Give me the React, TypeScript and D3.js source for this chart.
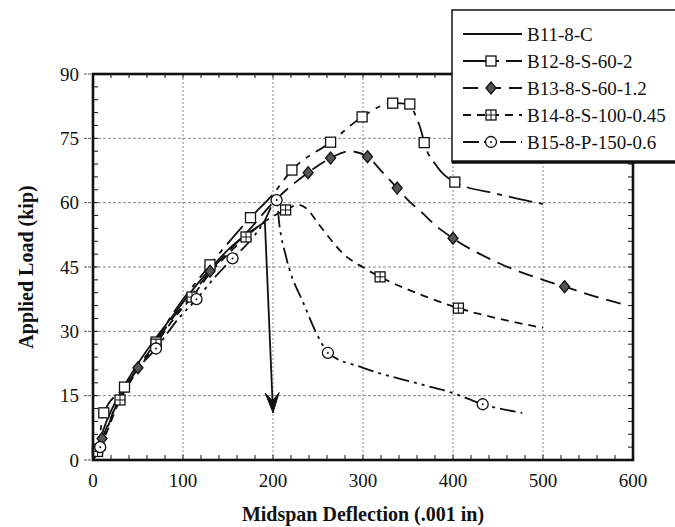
import React from "react";
import * as d3 from "d3";

type P = [number, number];

const xTicks = [0, 100, 200, 300, 400, 500, 600];
const yTicks = [0, 15, 30, 45, 60, 75, 90];
const xTitle = "Midspan Deflection (.001 in)";
const yTitle = "Applied Load (kip)";

const seriesNames = ["B11-8-C", "B12-8-S-60-2", "B13-8-S-60-1.2", "B14-8-S-100-0.45", "B15-8-P-150-0.6"];

const b11: P[] = [[0, 0], [5, 3], [15, 9], [30, 15.5], [50, 22.5], [70, 28.5], [90, 34], [110, 39.5], [130, 44.5], [150, 49], [170, 52.5], [191, 55.5]];
const b11Arrow: P[] = [[191, 55.5], [200, 11]];

const b12: P[] = [[0, 0], [5, 2.5], [12, 11], [35, 17], [60, 24.5], [90, 34.5], [130, 45.5], [175, 56.5], [200, 62], [221, 67.6], [264, 74.1], [299, 80], [333, 83.2], [352, 83], [358, 80.5], [365, 76.5], [368, 74], [382, 68.5], [402, 64.8], [450, 62], [500, 59.7]];
const b12Marks: P[] = [[5, 2.5], [12, 11], [35, 17], [70, 27.5], [130, 45.5], [175, 56.5], [221, 67.6], [264, 74.1], [299, 80], [333, 83.2], [352, 83], [368, 74], [402, 64.8]];

const b13: P[] = [[0, 0], [10, 5], [30, 14.5], [50, 21.5], [70, 27.5], [90, 33.5], [110, 38.5], [130, 44], [150, 48.5], [175, 54], [200, 60], [239, 67], [264, 70.4], [285, 72], [305, 70.7], [322, 67], [338, 63.4], [350, 60.6], [365, 57.8], [380, 54.8], [400, 51.7], [450, 46], [500, 42], [524, 40.4], [560, 38], [595, 36]];
const b13Marks: P[] = [[10, 5], [50, 21.5], [130, 44], [239, 67], [264, 70.4], [305, 70.7], [338, 63.4], [400, 51.7], [524, 40.4]];

const b14: P[] = [[0, 0], [5, 2], [10, 4], [30, 14], [50, 21], [70, 27], [90, 33], [110, 38], [130, 43.5], [150, 48], [170, 52], [190, 55.5], [214, 58.3], [228, 59.5], [238, 58.5], [250, 55.2], [263, 51.7], [276, 48.5], [301, 44.8], [319, 42.7], [371, 38], [406, 35.4], [450, 33], [500, 30.8]];
const b14Marks: P[] = [[5, 2], [30, 14], [70, 27], [110, 38], [170, 52], [214, 58.3], [319, 42.7], [406, 35.4]];

const b15: P[] = [[0, 0], [8, 3], [25, 12.5], [45, 20], [70, 26], [95, 33], [115, 37.5], [135, 42.5], [155, 47], [172, 50.5], [190, 55.5], [204, 60.6], [207, 55], [215, 47], [235, 36], [252, 28], [261, 25], [300, 21.5], [367, 17.5], [400, 15.6], [433, 13], [477, 11]];
const b15Marks: P[] = [[8, 3], [70, 26], [115, 37.5], [155, 47], [204, 60.6], [261, 25], [433, 13]];

const x = d3.scaleLinear().domain([0, 600]).range([93, 633]);
const y = d3.scaleLinear().domain([0, 90]).range([460, 74]);

const line = d3.line<P>().x((d) => x(d[0])).y((d) => y(d[1])).curve(d3.curveMonotoneX);
const straight = d3.line<P>().x((d) => x(d[0])).y((d) => y(d[1]));

const INK = "#111";

type Marker = "none" | "square" | "diamond" | "squarecross" | "circledot";

function Mark({ kind, cx, cy }: { kind: Marker; cx: number; cy: number }) {
  if (kind === "square")
    return <rect x={cx - 5} y={cy - 5} width={10} height={10} fill="white" stroke={INK} strokeWidth={1.3} />;
  if (kind === "squarecross")
    return (
      <g>
        <rect x={cx - 5} y={cy - 5} width={10} height={10} fill="white" stroke={INK} strokeWidth={1.3} />
        <line x1={cx - 5} x2={cx + 5} y1={cy} y2={cy} stroke={INK} strokeWidth={1} />
        <line x1={cx} x2={cx} y1={cy - 5} y2={cy + 5} stroke={INK} strokeWidth={1} />
      </g>
    );
  if (kind === "diamond")
    return (
      <g>
        <path d={`M${cx},${cy - 6}L${cx + 5},${cy}L${cx},${cy + 6}L${cx - 5},${cy}Z`} fill="#555" stroke={INK} strokeWidth={1.3} />
      </g>
    );
  if (kind === "circledot")
    return (
      <g>
        <circle cx={cx} cy={cy} r={5.5} fill="white" stroke={INK} strokeWidth={1.3} />
        <circle cx={cx} cy={cy} r={1} fill={INK} />
      </g>
    );
  return null;
}

const styles: { dash: string; marker: Marker }[] = [
  { dash: "", marker: "none" },
  { dash: "24,7,5,7", marker: "square" },
  { dash: "15,8", marker: "diamond" },
  { dash: "8,6", marker: "squarecross" },
  { dash: "16,5,3,5,3,5", marker: "circledot" },
];

const seriesData = [b11, b12, b13, b14, b15];
const seriesMarks: P[][] = [[], b12Marks, b13Marks, b14Marks, b15Marks];

export default function App() {
  const left = x(0), right = x(600), top = y(90), bottom = y(0);
  const minorX = d3.range(0, 601, 20);
  const minorY = d3.range(0, 91, 3);

  // arrow head
  const a0 = b11Arrow[0], a1 = b11Arrow[1];
  const ax = x(a1[0]), ay = y(a1[1]);
  const ang = Math.atan2(y(a1[1]) - y(a0[1]), x(a1[0]) - x(a0[0]));
  const L = 20, W = 7;
  const ux = Math.cos(ang), uy = Math.sin(ang);
  const px = -uy, py = ux;
  const head = `M${ax},${ay} L${ax - ux * L + px * W},${ay - uy * L + py * W} L${ax - ux * L * 0.6},${ay - uy * L * 0.6} L${ax - ux * L - px * W},${ay - uy * L - py * W} Z`;

  const legX = 452, legY = 10, legH = 152, rowY0 = 34, rowDy = 27;

  return (
    <svg width={675} height={527} style={{ position: "absolute", left: 0, top: 0, background: "white" }} fontFamily="'Liberation Serif', 'Times New Roman', serif">
      <rect width={675} height={527} fill="white" />
      {/* grid */}
      {xTicks.filter((t) => t > 0 && t < 600).map((t) => (
        <line key={"gx" + t} x1={x(t)} x2={x(t)} y1={top} y2={bottom} stroke="#888" strokeWidth={1} strokeDasharray="2,2" />
      ))}
      {yTicks.filter((t) => t > 0 && t < 90).map((t) => (
        <line key={"gy" + t} x1={left} x2={right} y1={y(t)} y2={y(t)} stroke="#888" strokeWidth={1} strokeDasharray="3,2" />
      ))}
      {/* minor ticks */}
      {minorX.map((t) => (
        <g key={"mx" + t}>
          <line x1={x(t)} x2={x(t)} y1={bottom} y2={bottom - 5} stroke={INK} strokeWidth={1} />
          <line x1={x(t)} x2={x(t)} y1={top} y2={top + 4} stroke={INK} strokeWidth={1} />
        </g>
      ))}
      {minorY.map((t) => (
        <g key={"my" + t}>
          <line x1={left} x2={left + 5} y1={y(t)} y2={y(t)} stroke={INK} strokeWidth={1} />
          <line x1={right} x2={right - 5} y1={y(t)} y2={y(t)} stroke={INK} strokeWidth={1} />
        </g>
      ))}
      {yTicks.map((t) => (
        <line key={"ty" + t} x1={left - 9} x2={left} y1={y(t)} y2={y(t)} stroke="#555" strokeWidth={1} strokeDasharray="3,1" />
      ))}
      {/* series */}
      {seriesData.map((d, i) => (
        <path key={"s" + i} d={line(d) || ""} fill="none" stroke={INK} strokeWidth={1.8} strokeDasharray={styles[i].dash || undefined} />
      ))}
      <path d={straight(b11Arrow) || ""} fill="none" stroke={INK} strokeWidth={1.8} />
      <path d={head} fill={INK} stroke={INK} strokeWidth={1} />
      {seriesMarks.map((ms, i) => ms.map((m, j) => <Mark key={"m" + i + "-" + j} kind={styles[i].marker} cx={x(m[0])} cy={y(m[1])} />))}
      {/* frame */}
      <rect x={left} y={top} width={right - left} height={bottom - top} fill="none" stroke={INK} strokeWidth={2.6} />
      {/* tick labels */}
      {xTicks.map((t) => (
        <text key={"lx" + t} x={x(t)} y={487} textAnchor="middle" fontSize={19} fill={INK}>{t}</text>
      ))}
      {yTicks.map((t) => (
        <text key={"ly" + t} x={79} y={y(t) + 6.5} textAnchor="end" fontSize={19} fill={INK}>{t}</text>
      ))}
      <text x={(left + right) / 2} y={521} textAnchor="middle" fontSize={20} fontWeight="bold" fill={INK}>{xTitle}</text>
      <text transform={`translate(33,${(top + bottom) / 2}) rotate(-90)`} textAnchor="middle" fontSize={20} fontWeight="bold" fill={INK}>{yTitle}</text>
      {/* legend */}
      <rect x={legX} y={legY} width={260} height={legH} fill="white" stroke={INK} strokeWidth={1.5} />
      <line x1={legX} x2={675} y1={legY + legH} y2={legY + legH} stroke={INK} strokeWidth={3.5} />
      {seriesNames.map((n, i) => {
        const ry = rowY0 + i * rowDy;
        return (
          <g key={"lg" + i}>
            <line x1={463} x2={522} y1={ry} y2={ry} stroke={INK} strokeWidth={1.8} strokeDasharray={styles[i].dash || undefined} />
            <Mark kind={styles[i].marker} cx={491} cy={ry} />
            <text x={527} y={ry + 6.5} fontSize={19} fill={INK}>{n}</text>
          </g>
        );
      })}
    </svg>
  );
}
